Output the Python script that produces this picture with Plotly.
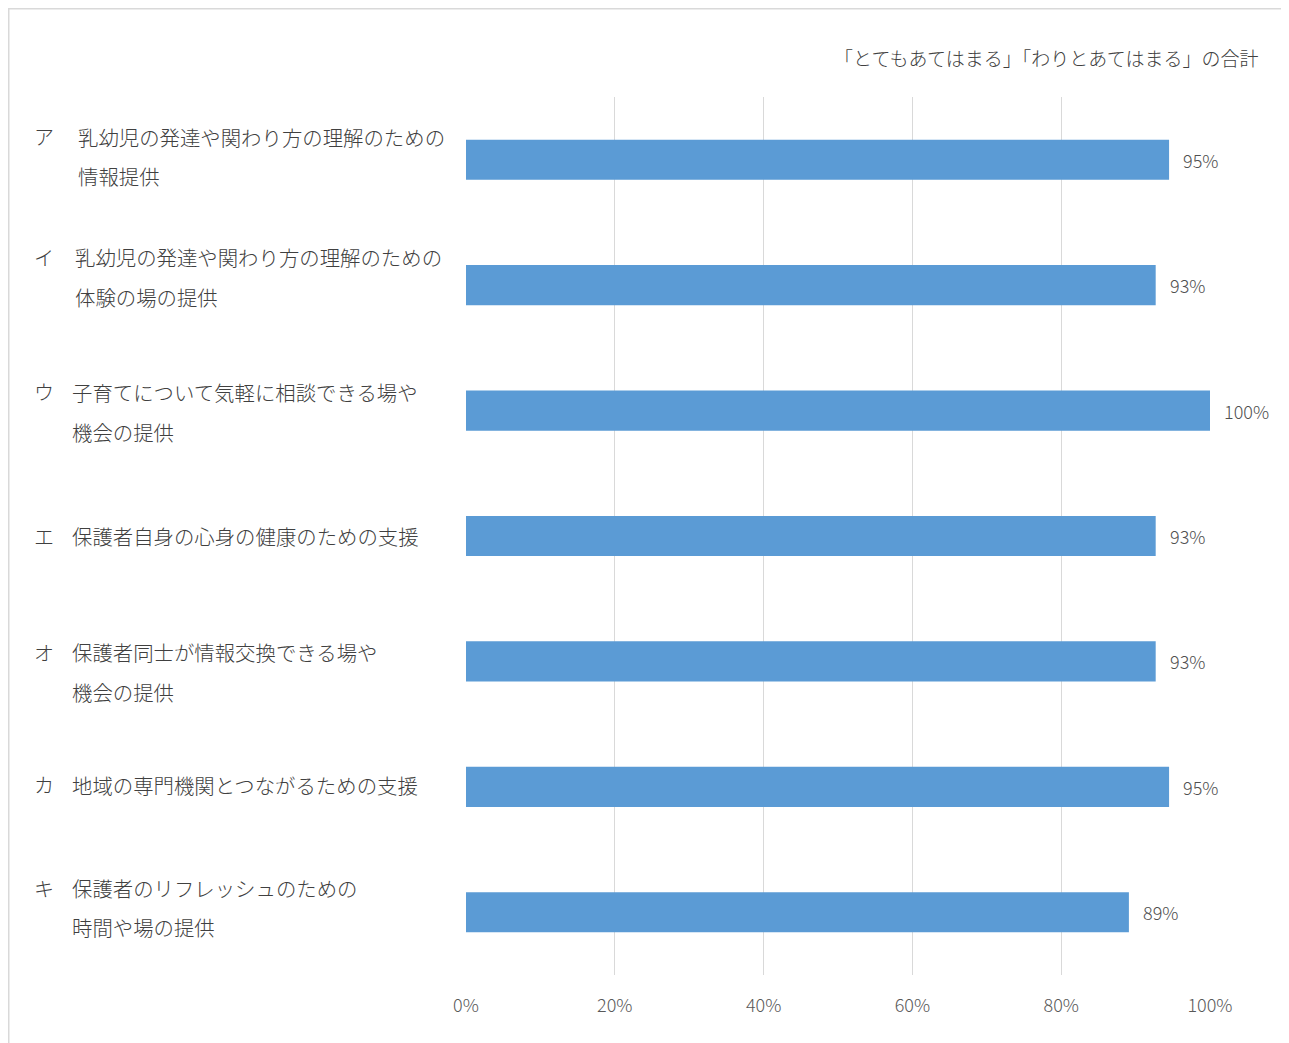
import plotly.graph_objects as go

# ---- data ----
prefixes = ["ア", "イ", "ウ", "エ", "オ", "カ", "キ"]
label_lines = [
    ["乳幼児の発達や関わり方の理解のための", "情報提供"],
    ["乳幼児の発達や関わり方の理解のための", "体験の場の提供"],
    ["子育てについて気軽に相談できる場や", "機会の提供"],
    ["保護者自身の心身の健康のための支援"],
    ["保護者同士が情報交換できる場や", "機会の提供"],
    ["地域の専門機関とつながるための支援"],
    ["保護者のリフレッシュのための", "時間や場の提供"],
]
values = [0.945, 0.927, 1.0, 0.927, 0.927, 0.945, 0.891]
value_labels = ["95%", "93%", "100%", "93%", "93%", "95%", "89%"]
tick_vals = [0, 0.2, 0.4, 0.6, 0.8, 1.0]
tick_text = ["0%", "20%", "40%", "60%", "80%", "100%"]
subtitle = "「とてもあてはまる」「わりとあてはまる」の合計"

categories = [p + " " + " ".join(l) for p, l in zip(prefixes, label_lines)]

# ---- style ----
OFF = 8  # page body margin
W, H = 1289 - OFF, 1043 - OFF
PW, PH = 744, 878
L, T = 466 - OFF, 97 - OFF
R, B = W - L - PW, H - T - PH
FONT = "Noto Sans CJK JP"
TXT = "#404040"
line_offsets = [(-23, 16), (-28, 12), (-19, 21), (0,), (-9, 31), (-2,), (-24, 15)]
text_x_px = [76, 73, 70, 70, 70, 70, 70]
prefix_x_px = 32


def px_to_paper_x(px):
    return (px - OFF - L) / PW


def py_to_paper_y(py):
    return 1 - (py - OFF - T) / PH


fig = go.Figure(
    go.Bar(
        x=values,
        y=categories,
        orientation="h",
        marker=dict(color="#5b9bd5", line=dict(width=0)),
        width=0.32,
        hoverinfo="skip",
    )
)

annotations = []
for i, cat in enumerate(categories):
    offs = line_offsets[i]
    annotations.append(dict(
        x=px_to_paper_x(prefix_x_px), xref="paper", y=cat, yref="y",
        yshift=-offs[0], text=prefixes[i], showarrow=False,
        xanchor="left", yanchor="middle",
        font=dict(family=FONT, size=20, color=TXT, weight=300),
    ))
    for j, line in enumerate(label_lines[i]):
        annotations.append(dict(
            x=px_to_paper_x(text_x_px[i]), xref="paper", y=cat, yref="y",
            yshift=-offs[j], text=line, showarrow=False,
            xanchor="left", yanchor="middle",
            font=dict(family=FONT, size=20.4, color=TXT, weight=300),
        ))
    annotations.append(dict(
        x=values[i], xref="x", y=cat, yref="y", xshift=12,
        text=value_labels[i], showarrow=False, xanchor="left", yanchor="middle",
        font=dict(family=FONT, size=18, color="#505050", weight=300),
    ))

annotations.append(dict(
    x=px_to_paper_x(1260), xref="paper", y=py_to_paper_y(57), yref="paper",
    text=subtitle, showarrow=False, xanchor="right", yanchor="middle",
    font=dict(family=FONT, size=19, color=TXT, weight=300),
))

fig.update_layout(
    width=W, height=H,
    margin=dict(l=L, r=R, t=T, b=B, pad=0),
    paper_bgcolor="white", plot_bgcolor="white",
    showlegend=False,
    annotations=annotations,
    shapes=[dict(
        type="rect", xref="paper", yref="paper",
        x0=px_to_paper_x(OFF + 0.75), x1=px_to_paper_x(1300),
        y0=py_to_paper_y(1060), y1=py_to_paper_y(OFF + 0.75),
        line=dict(color="#d9d9d9", width=1.5), fillcolor="rgba(0,0,0,0)",
        layer="below",
    )],
    xaxis=dict(
        range=[0, 1], tickvals=tick_vals, ticktext=tick_text,
        showgrid=True, gridcolor="#d9d9d9", gridwidth=1,
        zeroline=False, showline=False, ticks="",
        ticklabelstandoff=18,
        tickfont=dict(family=FONT, size=18, color="#595959", weight=300),
        fixedrange=True,
    ),
    yaxis=dict(
        categoryorder="array", categoryarray=categories, autorange="reversed",
        showticklabels=False, showgrid=False, zeroline=False, showline=False,
        ticks="", fixedrange=True,
    ),
)

fig.write_html("out.html")
